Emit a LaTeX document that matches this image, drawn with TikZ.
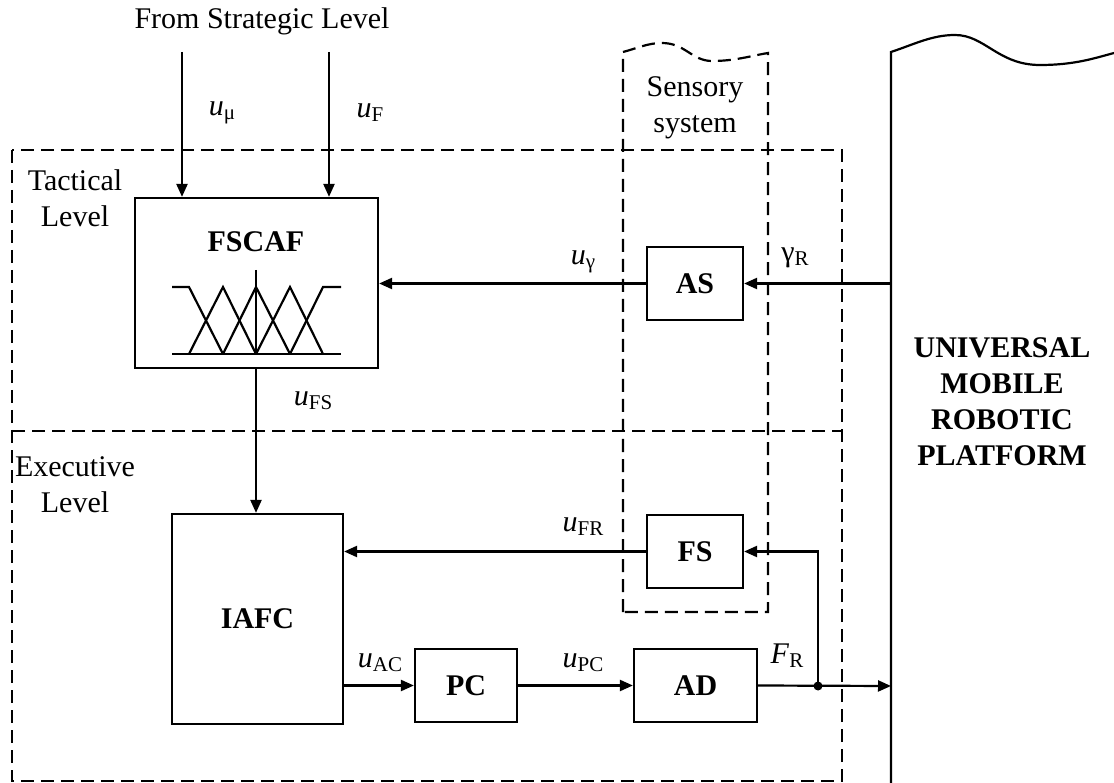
\documentclass[tikz,border=0pt]{standalone}
\usepackage{fontspec}
\setmainfont{Liberation Serif}
\usetikzlibrary{arrows.meta}
\newcommand\lbl[2]{\textit{#1}\raisebox{-0.3ex}{\fontsize{21}{21}\selectfont #2}}
\tikzset{
  txt/.style={font=\fontsize{30}{36}\selectfont, inner sep=0pt, align=center},
  blk/.style={draw, line width=2.2pt, inner sep=0pt, font=\fontsize{30}{36}\selectfont\bfseries},
  arr/.style={line width=2.2pt, -{Triangle[length=13pt,width=11pt]}},
  dsh/.style={line width=2.2pt, dash pattern=on 13pt off 7pt},
  sol/.style={line width=2.2pt}
}
\begin{document}
\begin{tikzpicture}[x=1pt,y=-1pt]
\useasboundingbox (0,0) rectangle (1114,783);
% dashed level frames
\draw[dsh] (12,150) rectangle (842,781);
\draw[dsh] (12,431) -- (842,431);
% sensory system
\draw[dsh] (623,612) -- (623,52) .. controls (638,48) and (648,43) .. (662,43)
  .. controls (685,43) and (692,61) .. (712,61) .. controls (735,61) and (750,56) .. (768,53) -- (768,612) -- cycle;
\node[txt] (sens) at (695,108) {Sensory\\system};
% platform
\draw[sol] (891,783) -- (891,52) .. controls (915,44) and (932,35) .. (955,35)
  .. controls (985,35) and (998,65) .. (1040,65) .. controls (1075,65) and (1095,58) .. (1114,53);
\node[txt, font=\fontsize{30}{36}\selectfont\bfseries] (umrp) at (1002,402) {UNIVERSAL\\MOBILE\\ROBOTIC\\PLATFORM};
% level labels
\node[txt] (tact) at (75,198) {Tactical\\Level};
\node[txt] (exec) at (75,485) {Executive\\Level};
\node[txt] (strat) at (262,21) {From Strategic Level};
% blocks
\node[blk, minimum width=243pt, minimum height=170pt] (fscaf) at (256.5,283) {};
\node[txt, font=\fontsize{30}{36}\selectfont\bfseries] (fscaft) at (256,242) {FSCAF};
\node[blk, minimum width=171pt, minimum height=210pt] (iafc) at (257.5,619) {IAFC};
\node[blk, minimum width=96pt, minimum height=73pt] (as) at (695,283.5) {AS};
\node[blk, minimum width=96pt, minimum height=73pt] (fs) at (695,551.5) {FS};
\node[blk, minimum width=102pt, minimum height=73pt] (pc) at (466,685.5) {PC};
\node[blk, minimum width=123pt, minimum height=73pt] (ad) at (695.5,685.5) {AD};
% membership functions
\draw[sol] (172,354) -- (341,354);
\draw[sol] (256,270) -- (256,354);
\draw[sol] (172,287) -- (189,287) -- (223,354);
\draw[sol] (189,354) -- (223,287) -- (256,354);
\draw[sol] (223,354) -- (256,287) -- (290,354);
\draw[sol] (256,354) -- (290,287) -- (323,354);
\draw[sol] (290,354) -- (323,287) -- (341,287);
% coordinates
\coordinate (s1) at (182,52);
\coordinate (s2) at (329,52);
\coordinate (p1) at (891,283.5);
\coordinate (p2) at (891,686);
\coordinate (j) at (818,686);
% connectors
\draw[arr] (s1) -- (fscaf.north -| s1);
\draw[arr] (s2) -- (fscaf.north -| s2);
\draw[arr] (p1) -- (as.east);
\draw[arr] (as.west) -- (fscaf.east |- as.west);
\draw[arr] (fscaf.south -| 256,0) -- (iafc.north -| 256,0);
\draw[arr] (fs.west) -- (iafc.east |- fs.west);
\draw[arr] (iafc.east |- pc.west) -- (pc.west);
\draw[arr] (pc.east) -- (ad.west);
\draw[arr] (ad.east) -- (p2);
\draw[arr] (j) |- (fs.east);
\fill (j) circle (4.5pt);
% labels
\node[txt] (lmu) at (222,113) {\lbl{u}{μ}};
\node[txt] (lf) at (370,113) {\lbl{u}{F}};
\node[txt] (lg) at (583,262) {\lbl{u}{γ}};
\node[txt] (lgr) at (795,258) {γ\raisebox{-0.3ex}{\fontsize{21}{21}\selectfont R}};
\node[txt] (lfs) at (313,401) {\lbl{u}{FS}};
\node[txt] (lfr) at (583,527) {\lbl{u}{FR}};
\node[txt] (lac) at (380,663) {\lbl{u}{AC}};
\node[txt] (lpc) at (583,663) {\lbl{u}{PC}};
\node[txt] (lFR) at (787,656) {\lbl{F}{R}};
\end{tikzpicture}
\end{document}
